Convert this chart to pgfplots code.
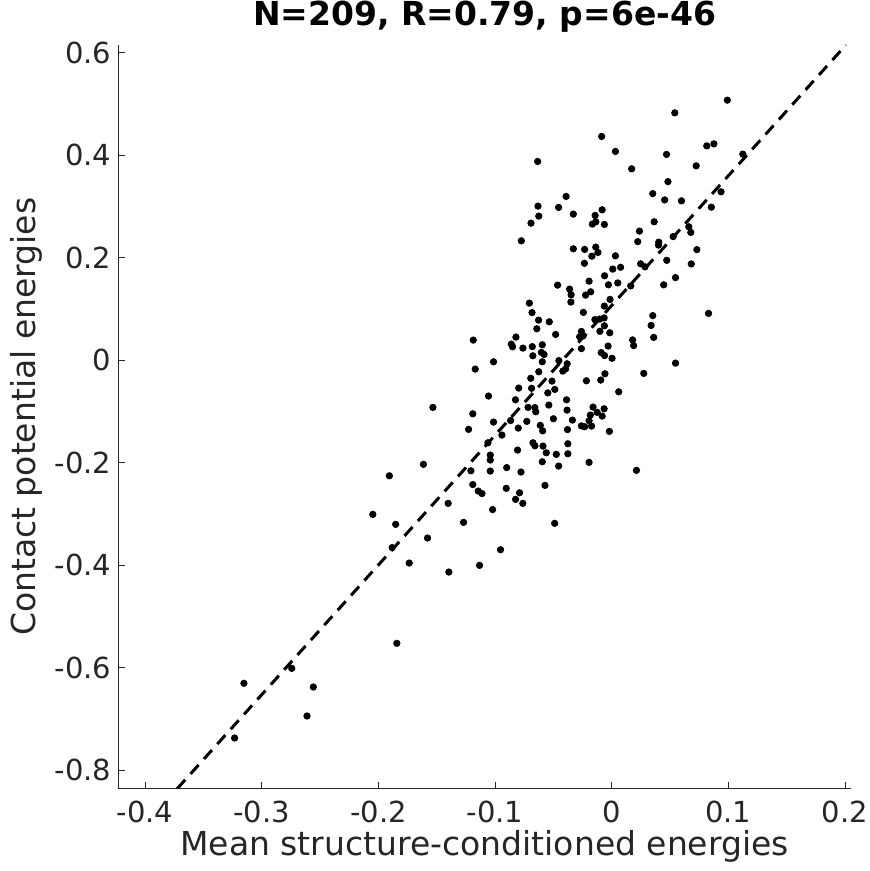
\documentclass[border=0pt]{standalone}
\usepackage{fontspec}
\setmainfont{DejaVu Sans}
\usepackage{pgfplots}
\pgfplotsset{compat=1.18}
\usetikzlibrary{calc}
\definecolor{axgray}{HTML}{262626}
\pgfplotstableread{
x y
-0.3233 -0.7376
-0.3153 -0.6308
-0.2743 -0.6016
-0.2558 -0.6380
-0.2612 -0.6946
-0.1842 -0.5528
-0.2048 -0.3011
-0.1852 -0.3206
-0.1882 -0.3659
-0.1061 -0.1614
-0.0675 -0.1614
-0.0807 -0.1756
-0.1041 -0.1854
-0.1041 -0.1951
-0.1614 -0.2035
-0.1906 -0.2258
-0.1207 -0.2160
-0.1041 -0.2166
-0.0900 -0.2098
-0.0778 -0.2185
-0.1191 -0.2429
-0.1144 -0.2556
-0.1112 -0.2605
-0.0904 -0.2503
-0.0790 -0.2589
-0.0824 -0.2718
-0.0762 -0.2796
-0.1402 -0.2796
-0.1021 -0.2917
-0.1270 -0.3167
-0.1579 -0.3473
-0.0953 -0.3701
-0.1736 -0.3961
-0.1133 -0.4006
-0.1396 -0.4137
-0.0572 -0.2445
-0.0489 -0.3186
-0.0658 -0.1672
-0.0589 -0.1678
-0.0561 -0.1809
-0.0475 -0.1840
-0.0455 -0.2068
-0.0595 -0.1984
-0.0706 0.1112
-0.0683 0.0927
-0.0627 0.0780
-0.0642 0.0611
-0.1187 0.0390
-0.0821 0.0449
-0.0861 0.0312
-0.0850 0.0260
-0.0761 0.0234
-0.0681 0.0263
-0.0676 0.0084
-0.1013 -0.0033
-0.1170 -0.0176
-0.0625 -0.0228
-0.0694 -0.0355
-0.0797 -0.0546
-0.0687 -0.0550
-0.1056 -0.0702
-0.0825 -0.0775
-0.1533 -0.0923
-0.0717 -0.0923
-0.0659 -0.0927
-0.0651 -0.1009
-0.1191 -0.1048
-0.1013 -0.1210
-0.0728 -0.1196
-0.1227 -0.1352
-0.0801 -0.1327
-0.0941 -0.1463
-0.0867 -0.1180
-0.0612 -0.1274
-0.0592 -0.1381
-0.0535 0.0747
-0.0481 0.0501
-0.0595 0.0299
-0.0603 0.0150
-0.0580 0.0111
-0.0595 -0.0033
-0.0453 -0.0010
-0.0512 -0.0410
-0.0548 -0.0640
-0.0488 -0.0572
-0.0539 -0.0878
-0.0500 -0.1145
-0.0635 0.3877
-0.0632 0.3005
-0.0455 0.2980
-0.0625 0.2810
-0.0692 0.2673
-0.0775 0.2328
-0.0464 0.1463
0.0541 0.4825
-0.0086 0.4365
0.0032 0.4072
0.0470 0.4014
0.0815 0.4181
0.0876 0.4220
0.0991 0.5073
0.1124 0.4020
0.0171 0.3733
0.0724 0.3791
0.0482 0.3483
0.0352 0.3249
0.0454 0.3126
0.0598 0.3108
-0.0391 0.3194
-0.0329 0.2849
-0.0082 0.2933
-0.0142 0.2823
-0.0166 0.2654
-0.0136 0.2699
-0.0063 0.2648
0.0364 0.2699
0.0238 0.2517
0.0661 0.2601
0.0678 0.2492
0.0223 0.2312
0.0403 0.2302
0.0401 0.2244
0.0527 0.2410
0.0937 0.3284
0.0854 0.2985
-0.0329 0.2172
-0.0232 0.2160
-0.0137 0.2205
-0.0118 0.2101
-0.0170 0.2029
0.0032 0.2035
0.0730 0.2156
0.0472 0.1947
-0.0234 0.1889
0.0248 0.1879
0.0285 0.1820
0.0682 0.1877
0.0076 0.1811
0.0009 0.1776
-0.0061 0.1645
-0.0028 0.1469
0.0052 0.1506
-0.0194 0.1541
-0.0361 0.1385
-0.0348 0.1274
-0.0350 0.1132
-0.0180 0.1333
-0.0224 0.1268
0.0163 0.1448
0.0446 0.1469
0.0547 0.1610
-0.0014 0.1184
-0.0063 0.1054
-0.0243 0.0931
0.0352 0.0868
0.0830 0.0911
-0.0144 0.0790
-0.0103 0.0800
-0.0065 0.0823
0.0338 0.0677
0.0360 0.0443
-0.0063 0.0669
-0.0101 0.0562
-0.0017 0.0533
-0.0260 0.0560
-0.0275 0.0455
-0.0245 0.0474
-0.0260 0.0224
0.0179 0.0394
0.0188 0.0283
-0.0031 0.0273
-0.0090 0.0146
-0.0061 0.0088
0.0003 0.0035
0.0547 -0.0059
-0.0382 -0.0072
-0.0419 -0.0215
-0.0395 -0.0172
-0.0217 -0.0404
-0.0058 -0.0267
-0.0094 -0.0390
0.0275 -0.0260
-0.0387 -0.0775
0.0060 -0.0619
-0.0383 -0.0976
-0.0160 -0.0917
-0.0125 -0.1020
-0.0065 -0.0950
-0.0082 -0.1093
-0.0183 -0.1073
-0.0194 -0.1184
-0.0337 -0.1171
-0.0260 -0.1284
-0.0232 -0.1301
-0.0173 -0.1288
-0.0379 -0.1356
-0.0020 -0.1391
-0.0376 -0.1633
-0.0376 -0.1828
-0.0194 -0.1996
0.0212 -0.2152
}\pts
\begin{document}
\begin{tikzpicture}
\begin{axis}[
  scale only axis, width=366.3pt, height=371.9pt,
  xmin=-0.423, xmax=0.205, ymin=-0.8365, ymax=0.615,
  axis x line*=bottom, axis y line*=left,
  axis line style={axgray, line width=0.5pt},
  tick style={axgray, line width=0.5pt},
  tick align=inside, major tick length=3.5pt,
  xtick={-0.4,-0.3,-0.2,-0.1,0,0.1,0.2},
  ytick={-0.8,-0.6,-0.4,-0.2,0,0.2,0.4,0.6},
  xticklabels={-0.4,-0.3,-0.2,-0.1,0,0.1,0.2},
  yticklabels={-0.8,-0.6,-0.4,-0.2,0,0.2,0.4,0.6},
  ticklabel style={font=\fontsize{14.5}{17}\selectfont, text=axgray},
  xticklabel style={yshift=-2.5pt},
  /pgf/number format/assume math mode=true,
]
\addplot[only marks, mark=*, mark size=1.6pt, black] table[x=x,y=y] {\pts};
\addplot[black, line width=1.5pt, dash pattern=on 6pt off 4pt] coordinates {(-0.3725,-0.8365) (0.2008,0.615)};
\coordinate (sw) at (rel axis cs:0,0);
\coordinate (ne) at (rel axis cs:1,1);
\end{axis}
\node[rotate=90, anchor=base, font=\fontsize{16.5}{20}\selectfont, text=axgray] at ($(sw)!0.5!(sw|-ne) + (-41.15pt,0)$) {Contact potential energies};
\node[anchor=base, font=\fontsize{16.5}{20}\selectfont, text=axgray] at ($(sw)!0.5!(ne|-sw) + (0,-33.6pt)$) {Mean structure-conditioned energies};
\node[anchor=base, font=\bfseries\fontsize{16.5}{20}\selectfont] at ($(sw|-ne)!0.5!(ne) + (0,9.5pt)$) {N=209, R=0.79, p=6e-46};
\pgfresetboundingbox
\path ($(sw)+(-59.15pt,-41.15pt)$) rectangle ($(ne)+(9.5pt,22.5pt)$);
\end{tikzpicture}
\end{document}
